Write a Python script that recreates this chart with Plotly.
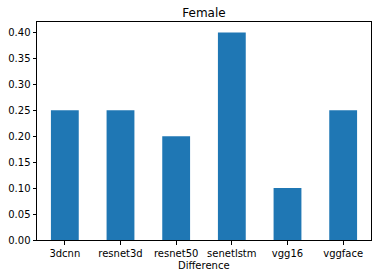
import plotly.graph_objects as go

categories = ["3dcnn", "resnet3d", "resnet50", "senetlstm", "vgg16", "vggface"]
values = [0.25, 0.25, 0.20, 0.40, 0.10, 0.25]
tick_vals = [0.0, 0.05, 0.10, 0.15, 0.20, 0.25, 0.30, 0.35, 0.40]
tick_text = ["0.00", "0.05", "0.10", "0.15", "0.20", "0.25", "0.30", "0.35", "0.40"]

fig = go.Figure(go.Bar(x=categories, y=values, width=0.5, marker_color="#1f77b4", marker_line_width=0))

axis_common = dict(showline=True, linecolor="black", linewidth=1, mirror=True, automargin=False,
                   ticks="outside", ticklen=3.5, tickcolor="black", showgrid=False, zeroline=False,
                   tickfont=dict(family="DejaVu Sans", size=10, color="black"))
fig.update_layout(
    width=378, height=278,
    margin=dict(l=37, r=7, t=22, b=38),
    paper_bgcolor="white", plot_bgcolor="white",
    title=dict(text="Female", x=0.5, xref="paper", xanchor="center", y=1 - 12.5/278, yanchor="middle",
               font=dict(family="DejaVu Sans", size=12, color="black")),
    xaxis=dict(range=[-0.5, 5.5], **axis_common),
    yaxis=dict(range=[0, 0.42], tickvals=tick_vals, ticktext=tick_text, **axis_common),
    annotations=[dict(text="Difference", x=0.5, xref="paper", y=0, yref="paper", yshift=-25,
                      xanchor="center", yanchor="middle", showarrow=False,
                      font=dict(family="DejaVu Sans", size=10, color="black"))],
    showlegend=False,
)
fig.write_html("out.html", config={"displayModeBar": False},
               post_script="document.body.style.margin='0px';")
